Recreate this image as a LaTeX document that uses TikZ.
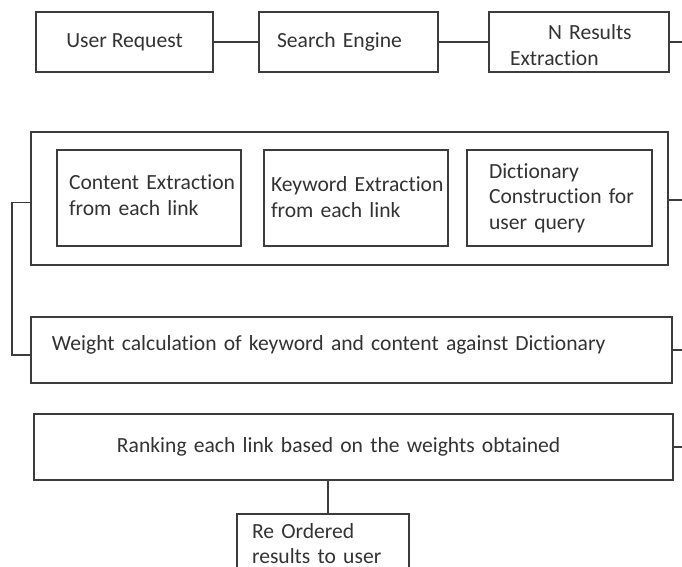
\documentclass[tikz,border=0pt]{standalone}
\usepackage{fontspec}
\setmainfont[Ligatures=NoCommon]{Carlito}
\definecolor{ln}{HTML}{3C3C3C}
\definecolor{tx}{HTML}{333333}
\begin{document}
\begin{tikzpicture}[x=0.75pt,y=-0.75pt,
  box/.style={draw=ln, line width=1.4pt, rectangle, inner sep=0pt, text=tx,
    font=\fontsize{16.2pt}{19pt}\selectfont},
  lbox/.style={box, align=left, text width=#1},
  conn/.style={draw=ln, line width=1.4pt}]
\clip (0,0) rectangle (682,567);
\fill[white] (0,0) rectangle (682,567);
% top row
\node[box, minimum width=132.75pt, minimum height=45pt] (ur) at (124.5,42) {User Request};
\node[lbox=134.25pt, minimum height=45pt] (se) at (348.5,42) {\hspace*{13.5pt}Search Engine};
\node[lbox=135pt, minimum height=45pt] (nr) at (579,42) {\hspace*{44.25pt}N Results\\\hspace*{15.75pt}Extraction\par\vspace{-4.5pt}};
% middle group
\node[box, minimum width=477.75pt, minimum height=99.75pt] (outer) at (349.5,198.5) {};
\node[lbox=138pt, minimum height=72pt] (ce) at (149,198) {\hspace*{9pt}Content Extraction\\\hspace*{9pt}from each link\par\vspace{4.5pt}};
\node[lbox=138pt, minimum height=72pt] (ke) at (356,198) {\hspace*{5.25pt}Keyword Extraction\\\hspace*{5.25pt}from each link\par\vspace{1.5pt}};
\node[lbox=138.75pt, minimum height=72pt] (dc) at (559.5,198) {\hspace*{16.5pt}Dictionary\\\hspace*{16.5pt}Construction for\\\hspace*{16.5pt}user query};
% weight and ranking
\node[lbox=480.75pt, minimum height=49.5pt] (wc) at (351.5,350) {\hspace*{15.75pt}Weight calculation of keyword and content against Dictionary\par\vspace{7pt}};
\node[lbox=479.25pt, minimum height=49.5pt] (rk) at (353.5,447) {\hspace*{62.25pt}Ranking each link based on the weights obtained};
\node[lbox=129pt, anchor=north, inner ysep=7pt] (ro) at (323,513) {\hspace*{11.25pt}Re Ordered\\\hspace*{11.25pt}results to user};
% stub ends
\coordinate (s1) at (682,42);
\coordinate (s2) at (682,200);
\coordinate (s3) at (682,350);
\coordinate (s4) at (682,447);
% connectors
\draw[conn] (ur.east) -- (se.west);
\draw[conn] (se.east) -- (nr.west);
\draw[conn] (nr.east) -- (s1);
\draw[conn] (outer.east |- s2) -- (s2);
\draw[conn] (wc.east) -- (s3);
\draw[conn] (rk.east) -- (s4);
\draw[conn] ([yshift=-3pt]outer.west) -- ++(-18,0) |- ([yshift=-3.5pt]wc.west);
\draw[conn] ([xshift=3.75pt]ro.north) -- ([xshift=3.75pt]ro.north |- rk.south);
\end{tikzpicture}
\end{document}
